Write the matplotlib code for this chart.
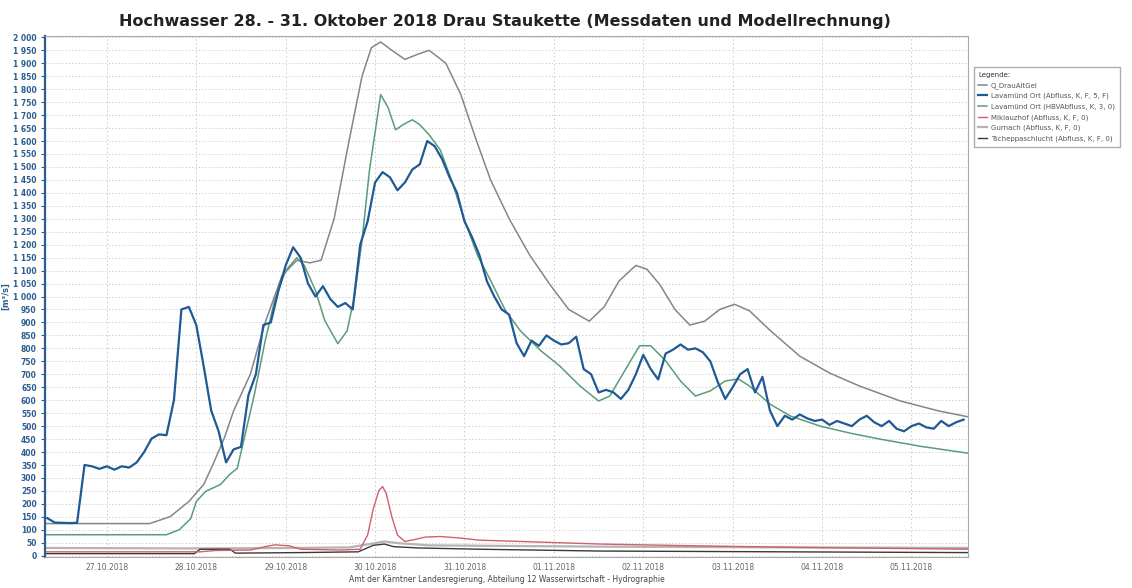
import numpy as np
import matplotlib.pyplot as plt

# time axis: hours since 26.10.2018 00:00
day_ticks = [24, 48, 72, 96, 120, 144, 168, 192, 216, 240]
day_labels = ["27.10.2018", "28.10.2018", "29.10.2018", "30.10.2018", "31.10.2018",
              "01.11.2018", "02.11.2018", "03.11.2018", "04.11.2018", "05.11.2018"]

# Q_Drau (upper envelope)
t_drau = [7, 35.5, 41, 46, 50, 52.5, 55.5, 58, 62.5, 66.5, 71, 75, 78.5, 81.5, 85, 89,
          92.5, 95, 97.5, 100.5, 104, 107.5, 110.5, 115, 119, 123, 127, 132, 137.5, 143,
          148, 153.5, 157.5, 161.5, 166, 169, 172.5, 176.5, 180.5, 184.5, 188.5, 192.5,
          196.5, 202, 210, 218, 226, 237, 247.5, 255.5]
q_drau = [124, 124, 151, 209, 275, 353, 453, 558, 700, 900, 1080, 1140, 1130, 1140, 1300,
          1600, 1850, 1960, 1982, 1950, 1915, 1935, 1950, 1900, 1780, 1610, 1450, 1300,
          1160, 1045, 950, 905, 960, 1060, 1120, 1105, 1045, 950, 890, 905, 950, 970, 945,
          870, 770, 705, 655, 597, 558, 535]

# Lavamuend Ort measured, 2-hourly from 26.10. 08:00
t_mess_start, t_mess_step = 8, 2
q_mess = [145, 128, 127, 126, 127, 350, 345, 335, 345, 332, 345, 340, 360, 400, 452, 468,
          465, 600, 950, 960, 890, 730, 560, 480, 360, 410, 420, 620, 700, 890, 900, 1020,
          1120, 1190, 1150, 1050, 1000, 1040, 990, 960, 975, 950, 1200, 1290, 1440, 1480,
          1460, 1410, 1440, 1490, 1510, 1600, 1580, 1530, 1460, 1400, 1290, 1230, 1160,
          1060, 1000, 950, 930, 820, 770, 830, 810, 850, 830, 815, 820, 845, 720, 700, 630,
          640, 630, 605, 640, 700, 775, 720, 680, 780, 795, 815, 795, 800, 785, 750, 670,
          605, 650, 700, 720, 630, 690, 560, 500, 540, 525, 545, 530, 520, 525, 505, 520,
          510, 500, 525, 540, 515, 500, 520, 490, 480, 500, 510, 495, 490, 520, 500, 515, 525]

# Lavamuend Ort HBV model
t_hbv = [7, 40, 43.5, 46.5, 48, 50.5, 54.5, 57, 59, 63.5, 66.5, 69, 72, 75, 77, 80, 82.5,
         86, 88.5, 90.5, 92.5, 94.5, 96.5, 97.5, 99.5, 101.5, 103.5, 106, 108, 110.5, 113.5,
         116.5, 120, 123.5, 127, 131, 135, 140.5, 145.5, 151, 156, 159, 163, 167, 170, 174,
         178, 182, 186, 190, 193.5, 196.5, 202, 207.5, 215.5, 223.5, 231.5, 242.5, 255.5]
q_hbv = [81, 81, 101, 143, 209, 248, 275, 314, 337, 616, 829, 984, 1100, 1150, 1120, 1023,
         907, 818, 868, 1004, 1217, 1488, 1682, 1779, 1729, 1643, 1663, 1682, 1663, 1624,
         1566, 1450, 1295, 1159, 1062, 946, 868, 791, 733, 655, 597, 616, 713, 810, 810,
         752, 674, 616, 636, 674, 682, 655, 585, 539, 500, 473, 450, 422, 395]

# Miklauzhof
t_mikl = [7, 49, 53, 62.5, 66.5, 69, 73, 76, 86.5, 92, 94, 95.5, 97, 98, 99, 100.5, 102,
          104, 106.5, 109.5, 113.5, 119, 124, 135, 156.5, 183, 210, 255.5]
q_mikl = [15, 15, 20, 22, 35, 42, 38, 25, 22, 25, 80, 180, 250, 267, 240, 150, 80, 55, 62,
          72, 74, 68, 60, 55, 45, 38, 32, 25]

# Gurnach
t_gurn = [7, 49, 75, 89, 94.5, 98.5, 102.5, 110.5, 129, 156.5, 210, 255.5]
q_gurn = [30, 28, 30, 32, 45, 55, 48, 40, 38, 35, 32, 30]

# Tscheppaschlucht
t_tsch = [7, 47.5, 49, 57, 58.5, 75.5, 91.5, 95.5, 98.5, 101, 107.5, 124, 156.5, 255.5]
q_tsch = [8, 8, 25, 25, 10, 12, 15, 40, 45, 35, 30, 25, 18, 12]

fig = plt.figure(figsize=(11.32, 5.88), dpi=100)
ax = fig.add_axes([0.0398, 0.0527, 0.8154, 0.886])

t_mess = t_mess_start + t_mess_step * np.arange(len(q_mess))
ax.plot(t_gurn, q_gurn, color="#b4b4b4", lw=1.6, label="Gurnach (Abfluss, K, F, 0)")
ax.plot(t_tsch, q_tsch, color="#3a3a3a", lw=1.0, label="Tscheppaschlucht (Abfluss, K, F, 0)")
ax.plot(t_mikl, q_mikl, color="#d0606e", lw=1.0, label="Miklauzhof (Abfluss, K, F, 0)")
ax.plot(t_drau, q_drau, color="#85858a", lw=1.1, label="Q_DrauAltGel")
ax.plot(t_hbv, q_hbv, color="#5a9c78", lw=1.1, label="Lavamünd Ort (HBVAbfluss, K, 3, 0)")
ax.plot(t_mess, q_mess, color="#1f5a94", lw=1.6, label="Lavamünd Ort (Abfluss, K, F, 5, F)")

ax.set_xlim(7.4, 255.2)
ax.set_ylim(-5, 2005)
yt = np.arange(0, 2001, 50)
ax.set_yticks(yt)
ax.set_yticklabels([f"{v:,}".replace(",", " ") for v in yt], fontsize=5.5,
                   color="#2b5d8f", fontweight="bold")
ax.set_xticks(day_ticks)
ax.set_xticklabels(day_labels, fontsize=5.5, color="#666666")
ax.tick_params(axis="y", length=3, color="#2b5d8f", pad=3)
ax.tick_params(axis="x", length=0, pad=4)
ax.grid(axis="y", color="#c4c4c4", ls=(0, (1.5, 2.5)), lw=0.6)
ax.grid(axis="x", color="#c8c8c8", ls=(0, (2, 3)), lw=0.6)
for s in ax.spines.values():
    s.set_color("#aaaaaa")
    s.set_linewidth(0.8)
ax.spines["left"].set_color("#2b5d8f")
ax.spines["left"].set_linewidth(1.6)
ax.set_ylabel("[m³/s]", fontsize=6, color="#2b5d8f", fontweight="bold", labelpad=2)

fig.text(0.446, 0.963, "Hochwasser 28. - 31. Oktober 2018 Drau Staukette (Messdaten und Modellrechnung)",
         ha="center", va="center", fontsize=11.5, fontweight="bold", color="#222222")
fig.text(0.448, 0.015, "Amt der Kärntner Landesregierung, Abteilung 12 Wasserwirtschaft - Hydrographie",
         ha="center", va="center", fontsize=5.5, color="#444444")

handles, labels = ax.get_legend_handles_labels()
order = [3, 5, 4, 2, 0, 1]
leg = fig.legend([handles[i] for i in order], [labels[i] for i in order],
                 loc="upper left", bbox_to_anchor=(0.857, 0.892), fontsize=5,
                 title="Legende:", title_fontsize=5, alignment="left",
                 handlelength=1.2, handletextpad=0.6, labelspacing=0.6,
                 frameon=True, fancybox=False, edgecolor="#999999", borderpad=0.7)
for txt in leg.get_texts():
    txt.set_color("#555555")
leg.get_title().set_color("#333333")

fig.savefig("out.png", dpi=100)
